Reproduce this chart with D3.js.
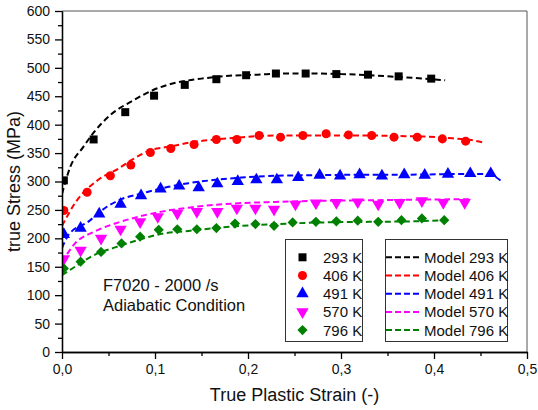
<!DOCTYPE html>
<html><head><meta charset="utf-8">
<script src="https://cdn.jsdelivr.net/npm/d3@7"></script>
<style>
body{margin:0;background:#fff;}
svg{display:block;font-family:"Liberation Sans",Arial,sans-serif;}
</style></head><body>
<svg id="c" width="538" height="410"></svg>
<script>
// ---- data ----
const temps = ["293 K","406 K","491 K","570 K","796 K"];
const colors = ["#000000","#ff0000","#0000ff","#ff00ff","#008000"];

const strain293 = [0.002,0.034,0.068,0.099,0.132,0.166,0.198,0.230,0.262,0.295,0.329,0.362,0.397];
const stress293 = [302,374,422,451,470,480,487,490,490,489,488,485,481];
const strain406 = [0.002,0.027,0.052,0.074,0.095,0.117,0.142,0.166,0.188,0.212,0.235,0.259,0.284,0.308,0.333,0.357,0.382,0.409,0.434];
const stress406 = [249,281,310,329,351,358,365,374,374,381,378,381,384,382,381,378,378,375,371];
const strain491 = [0.002,0.020,0.040,0.063,0.085,0.106,0.126,0.147,0.167,0.189,0.209,0.231,0.254,0.277,0.299,0.320,0.344,0.368,0.390,0.415,0.439,0.461];
const stress491 = [207,218,243,260,275,287,292,289,296,300,303,303,307,311,310,312,310,312,311,313,314,314];
const strain570 = [0.002,0.020,0.042,0.063,0.084,0.103,0.124,0.145,0.167,0.188,0.208,0.228,0.251,0.273,0.295,0.318,0.340,0.363,0.387,0.410,0.433];
const stress570 = [164,179,200,216,229,238,244,247,247,253,253,251,260,262,263,264,260,263,266,263,263];
const strain796 = [0.002,0.020,0.042,0.064,0.084,0.104,0.124,0.145,0.166,0.186,0.208,0.228,0.248,0.273,0.295,0.318,0.340,0.365,0.387,0.411];
const stress796 = [147,159,176,191,203,215,216,216,218,226,225,222,228,229,230,231,229,232,235,232];

const modelStrain293 = [0,0.009,0.023,0.034,0.052,0.077,0.098,0.123,0.15,0.18,0.21,0.24,0.27,0.3,0.33,0.36,0.39,0.412];
const modelStress293 = [278,326,361,386,417,443,461,474,481,486,488,490,490,489,487,484,481,478];
const modelStrain406 = [0,0.014,0.039,0.061,0.075,0.095,0.118,0.143,0.166,0.188,0.212,0.235,0.27,0.3,0.33,0.36,0.39,0.42,0.44,0.455];
const modelStress406 = [222,262,303,323,338,355,362,370,374,377,380,381,381,381,381,380,379,376,373,368];
const modelStrain491 = [0,0.007,0.028,0.046,0.064,0.086,0.107,0.136,0.165,0.193,0.229,0.27,0.32,0.37,0.42,0.455,0.465,0.472];
const modelStress491 = [183,206,229,253,269,279,288,297,303,307,310,311,312,312,313,313,309,301];
const modelStrain570 = [0,0.014,0.035,0.057,0.082,0.107,0.136,0.165,0.193,0.229,0.28,0.33,0.38,0.439];
const modelStress570 = [158,191,212,226,238,247,254,259,262,264,266,267,268,269];
const modelStrain796 = [0,0.014,0.035,0.057,0.082,0.107,0.136,0.165,0.193,0.229,0.28,0.33,0.38,0.414];
const modelStress796 = [135,150,171,184,197,208,213,218,222,225,228,229,230,232];

const yTicks = [0,50,100,150,200,250,300,350,400,450,500,550,600];
const xTicks = [0,0.1,0.2,0.3,0.4,0.5];
const xLabel = "True Plastic Strain (-)";
const yLabel = "true Stress (MPa)";
const note1 = "F7020 - 2000 /s";
const note2 = "Adiabatic Condition";

// ---- build ----
const expStrain=[strain293,strain406,strain491,strain570,strain796];
const expStress=[stress293,stress406,stress491,stress570,stress796];
const modStrain=[modelStrain293,modelStrain406,modelStrain491,modelStrain570,modelStrain796];
const modStress=[modelStress293,modelStress406,modelStress491,modelStress570,modelStress796];
const symbols=[d3.symbolSquare,d3.symbolCircle,d3.symbolTriangle,d3.symbolTriangle,d3.symbolSquare];
const symSize=[64,64,66,66,52];
const symRot=[0,0,0,180,45];

const W=538,H=410,m={l:62,t:11,r:11,b:58};
const svg=d3.select("#c");
const x=d3.scaleLinear().domain([0,0.5]).range([m.l,W-m.r]);
const y=d3.scaleLinear().domain([0,600]).range([H-m.b,m.t]);

svg.append("defs").append("clipPath").attr("id","clip").append("rect")
  .attr("x",m.l).attr("y",m.t).attr("width",W-m.l-m.r).attr("height",H-m.t-m.b);

// frame top/right
svg.append("line").attr("x1",m.l).attr("x2",W-m.r).attr("y1",m.t).attr("y2",m.t).attr("stroke","#555").attr("stroke-width",1);
svg.append("line").attr("x1",W-m.r).attr("x2",W-m.r).attr("y1",m.t).attr("y2",H-m.b).attr("stroke","#555").attr("stroke-width",1);

const g=svg.append("g").attr("clip-path","url(#clip)");
const line=d3.line().curve(d3.curveMonotoneX);
modStrain.forEach((s,i)=>{
  const pts=s.map((v,j)=>[x(v),y(modStress[i][j])]);
  g.append("path").attr("d",line(pts)).attr("fill","none").attr("stroke",colors[i])
   .attr("stroke-width",2).attr("stroke-dasharray","6,3.5");
});
expStrain.forEach((s,i)=>{
  g.selectAll(null).data(s.map((v,j)=>[v,expStress[i][j]])).enter().append("path")
   .attr("d",d3.symbol().type(symbols[i]).size(symSize[i]))
   .attr("transform",d=>`translate(${x(d[0])},${y(d[1])}) rotate(${symRot[i]})`)
   .attr("fill",colors[i]);
});

// axes
const fmtX=d=>d3.format(".1f")(d).replace(".",",");
svg.append("g").attr("transform",`translate(0,${H-m.b})`)
  .call(d3.axisBottom(x).tickValues(xTicks).tickFormat(fmtX).tickSize(7).tickSizeOuter(0).tickPadding(5));
svg.append("g").attr("transform",`translate(0,${H-m.b})`)
  .call(d3.axisBottom(x).tickValues(d3.range(0.05,0.5,0.1)).tickFormat("").tickSize(4).tickSizeOuter(0));
svg.append("g").attr("transform",`translate(${m.l},0)`)
  .call(d3.axisLeft(y).tickValues(yTicks).tickFormat(d3.format("d")).tickSize(7).tickSizeOuter(0).tickPadding(5));
svg.append("g").attr("transform",`translate(${m.l},0)`)
  .call(d3.axisLeft(y).tickValues(d3.range(25,600,50)).tickFormat("").tickSize(4).tickSizeOuter(0));
svg.selectAll(".domain,.tick line").attr("stroke","#000").attr("stroke-width",1.3);
svg.selectAll(".tick text").attr("font-size",14).attr("fill","#111").attr("font-family","Liberation Sans, Arial, sans-serif");

svg.append("text").attr("x",(m.l+W-m.r)/2).attr("y",401).attr("text-anchor","middle")
  .attr("font-size",18).attr("fill","#111").text(xLabel);
svg.append("text").attr("transform",`translate(20,${(m.t+H-m.b)/2}) rotate(-90)`).attr("text-anchor","middle")
  .attr("font-size",18).attr("fill","#111").text(yLabel);

svg.append("text").attr("x",103).attr("y",291).attr("font-size",16.5).attr("fill","#111").text(note1);
svg.append("text").attr("x",103).attr("y",310.5).attr("font-size",16.5).attr("fill","#111").text(note2);

// legends
svg.append("rect").attr("x",285.5).attr("y",239.5).attr("width",77).attr("height",102).attr("fill","#fff").attr("stroke","#333").attr("stroke-width",1);
svg.append("rect").attr("x",385.5).attr("y",239.5).attr("width",122).attr("height",102).attr("fill","#fff").attr("stroke","#333").attr("stroke-width",1);
temps.forEach((t,i)=>{
  const cy=257.3+i*18.2;
  svg.append("path").attr("d",d3.symbol().type(symbols[i]).size(symSize[i])())
    .attr("transform",`translate(302.5,${cy}) rotate(${symRot[i]})`).attr("fill",colors[i]);
  svg.append("text").attr("x",323).attr("y",cy+5.5).attr("font-size",15).attr("fill","#111").text(t);
  svg.append("line").attr("x1",386).attr("x2",420).attr("y1",cy).attr("y2",cy).attr("stroke",colors[i])
    .attr("stroke-width",2).attr("stroke-dasharray","6,3");
  svg.append("text").attr("x",424).attr("y",cy+5.5).attr("font-size",15).attr("fill","#111").text("Model "+t);
});
</script></body></html>
